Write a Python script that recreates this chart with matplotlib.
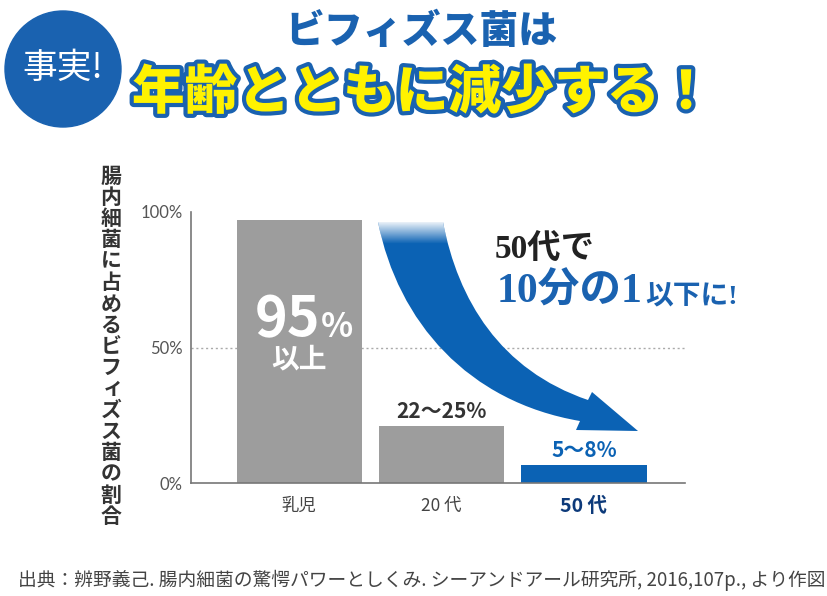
import matplotlib
matplotlib.use("Agg")
import matplotlib.pyplot as plt
import numpy as np
from matplotlib.path import Path
from matplotlib.patches import PathPatch, Circle
import matplotlib.patheffects as pe

plt.rcParams['font.family'] = ['Noto Sans CJK JP', 'DejaVu Sans']

# data
categories = ['乳児', '20 代', '50 代']
values = [97, 21, 6.5]
bar_labels = ['95%以上', '22〜25%', '5〜8%']
yticks = [0, 50, 100]
ytick_labels = ['0%', '50%', '100%']
ylabel = '腸内細菌に占めるビフィズス菌の割合'
source = '出典：辨野義己. 腸内細菌の驚愕パワーとしくみ. シーアンドアール研究所, 2016,107p., より作図'

BLUE = '#1a62b0'
BAR_BLUE = '#0b62b4'
GRAY = '#9d9d9d'
W, H = 827, 596

fig = plt.figure(figsize=(W / 100, H / 100), dpi=100)

def fx(px):
    return px / W

def fy(py):
    return 1 - py / H

# main bar chart
ax = fig.add_axes([fx(191), fy(483), fx(685) - fx(191), fy(212) - fy(483)])
x = np.arange(len(categories))
ax.axhline(50, color='#aaaaaa', ls=(0, (1.5, 2)), lw=1, zorder=0)
ax.bar(x, values, width=0.88, color=[GRAY, GRAY, BAR_BLUE], zorder=2)
ax.set_xlim(-0.76, 2.71)
ax.set_ylim(0, 100)
ax.set_yticks(yticks)
ax.set_yticklabels(ytick_labels, family=['Lato', 'DejaVu Sans'], fontsize=12, color='#555555')
ax.set_xticks(x)
ax.set_xticklabels(categories, fontsize=12.5, color='#444444')
lbl = ax.get_xticklabels()[2]
lbl.set_color('#0d3a7a')
lbl.set_fontweight('bold')
lbl.set_fontsize(14)
ax.tick_params(length=0, pad=6)
ax.tick_params(axis='x', pad=10)
for s in ['top', 'right']:
    ax.spines[s].set_visible(False)
for s in ['left', 'bottom']:
    ax.spines[s].set_color('#777777')
    ax.spines[s].set_linewidth(1.2)
ax.patch.set_alpha(0)

# value labels
ax.text(0.15, 54, bar_labels[0][:2], ha='right', va='baseline', color='white',
        fontsize=40, fontweight='bold')
ax.text(0.15, 54, bar_labels[0][2], ha='left', va='baseline', color='white',
        fontsize=24, fontweight='bold')
ax.text(0, 45.5, bar_labels[0][3:], ha='center', va='center', color='white',
        fontsize=20, fontweight='bold')
ax.text(1, values[1] + 1.5, bar_labels[1], ha='center', va='bottom', color='#333333',
        fontsize=15, fontweight='bold')
ax.text(2, values[2] + 1.5, bar_labels[2], ha='center', va='bottom', color=BAR_BLUE,
        fontsize=15, fontweight='bold')

# overlay for decorations (pixel coordinates)
ov = fig.add_axes([0, 0, 1, 1])
ov.set_xlim(0, W)
ov.set_ylim(H, 0)
ov.axis('off')

# curved arrow
verts = [
    (378, 222), (443, 222),
    (458, 300), (500, 370), (588, 400),
    (592, 392), (638, 431), (576, 430),
    (580, 421),
    (468, 402), (398, 322), (378, 222),
    (378, 222),
]
codes = [Path.MOVETO, Path.LINETO,
         Path.CURVE4, Path.CURVE4, Path.CURVE4,
         Path.LINETO, Path.LINETO, Path.LINETO,
         Path.LINETO,
         Path.CURVE4, Path.CURVE4, Path.CURVE4,
         Path.CLOSEPOLY]
arrow = PathPatch(Path(verts, codes), facecolor=BAR_BLUE, edgecolor='none', zorder=3)
ov.add_patch(arrow)
fade = np.ones((40, 2, 4))
fade[:, :, 3] = np.linspace(1, 0, 40)[:, None]
im = ov.imshow(fade, extent=(370, 450, 244, 220), zorder=4, aspect='auto')
im.set_clip_path(arrow)
ov.set_xlim(0, W)
ov.set_ylim(H, 0)

# title
ov.add_patch(Circle((63, 69), 58, color=BLUE, zorder=3))
ov.text(63, 68, '事実!', ha='center', va='center', color='white', fontsize=25, zorder=5)
ov.text(421, 31, 'ビフィズス菌は', ha='center', va='center', color=BLUE,
        fontsize=28, fontweight='black')
t = ov.text(422, 93, '年齢とともに減少する！', ha='center', va='center', color='#fff200',
            fontsize=38, fontweight='black')
t.set_path_effects([pe.Stroke(linewidth=6, foreground=BLUE), pe.Normal()])

# annotation
serif = ['Liberation Serif', 'Noto Sans CJK JP']
ov.text(495, 258, '50代で', ha='left', va='baseline', color='#222222',
        fontsize=24, fontweight='bold', family=serif)
t1 = ov.text(497, 303, '10分の1', ha='left', va='baseline', color=BLUE,
             fontsize=30, fontweight='bold', family=serif)
fig.canvas.draw()
bb = t1.get_window_extent()
ov.text(bb.x1 + 2, 303, '以下に!', ha='left', va='baseline', color=BLUE,
        fontsize=20, fontweight='bold', family=serif)

# vertical y label
for i, ch in enumerate(ylabel):
    dx, dy = (0, 0)
    if ch == 'ィ':
        dx, dy = 2, -2
    ov.text(111 + dx, 176 + i * 21.3 + dy, ch, ha='center', va='center',
            color='#333333', fontsize=15, fontweight='bold')

# source
ov.text(18, 580, source, ha='left', va='center', color='#444444', fontsize=13.5)

fig.savefig('out.png', dpi=100)
